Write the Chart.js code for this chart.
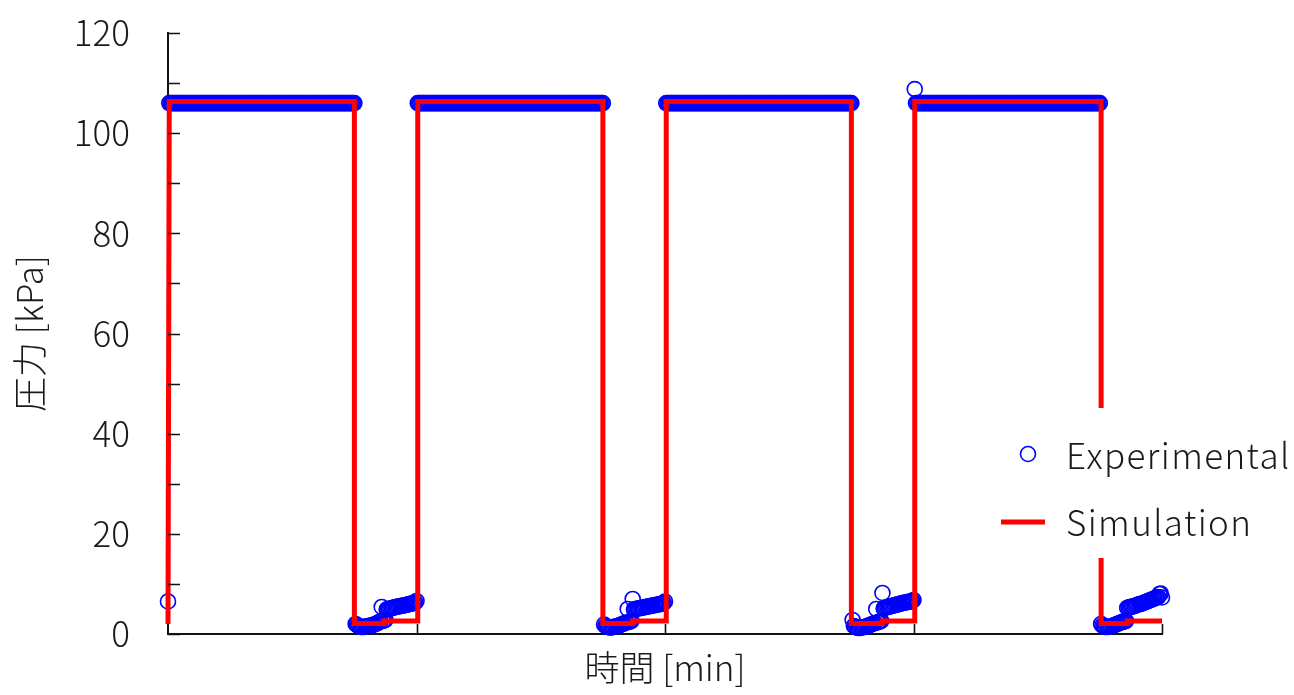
<!DOCTYPE html>
<html lang="ja">
<head>
  <meta charset="UTF-8" />
  <title>圧力 - Experimental / Simulation</title>
  <style>
    html, body { margin: 0; padding: 0; background: #fff; }
    #wrap { width: 1294px; height: 695px; position: relative; }
  </style>
</head>
<body>
  <div id="wrap"><canvas id="grafico" width="1294" height="695"></canvas></div>

  <script src="https://cdn.jsdelivr.net/npm/chart.js"></script>
  <script>
    // 測定間隔 [min]
    const sampleStep = 0.05;

    // 実験値 [kPa] (t = 0, 0.05, 0.10 ... 40 min)
    const expPressure = [
      6.5,
      // 1回目 加圧 (t = 0.05 - 7.50)
      106,106,106,106,106,106,106,106,106,106,106,106,106,106,106,106,106,106,106,106,106,106,106,106,106,
      106,106,106,106,106,106,106,106,106,106,106,106,106,106,106,106,106,106,106,106,106,106,106,106,106,
      106,106,106,106,106,106,106,106,106,106,106,106,106,106,106,106,106,106,106,106,106,106,106,106,106,
      106,106,106,106,106,106,106,106,106,106,106,106,106,106,106,106,106,106,106,106,106,106,106,106,106,
      106,106,106,106,106,106,106,106,106,106,106,106,106,106,106,106,106,106,106,106,106,106,106,106,106,
      106,106,106,106,106,106,106,106,106,106,106,106,106,106,106,106,106,106,106,106,106,106,106,106,106,
      // 減圧 (t = 7.55 - 9.95)
      2.0,1.8,1.6,1.5,1.4,1.4,1.4,
      1.4,1.5,1.5,1.6,1.6,1.7,1.7,
      1.8,1.9,2.0,2.1,2.2,2.4,2.5,
      5.4,2.6,2.7,2.8,4.9,5.0,5.0,
      5.1,5.2,5.2,5.3,5.4,5.4,5.5,
      5.5,5.6,5.6,5.7,5.7,5.8,5.8,
      5.9,6.0,6.0,6.1,6.1,6.2,6.3,
      6.6,
      // 2回目 加圧 (t = 10.05 - 17.50)
      106,106,106,106,106,106,106,106,106,106,106,106,106,106,106,106,106,106,106,106,106,106,106,106,106,
      106,106,106,106,106,106,106,106,106,106,106,106,106,106,106,106,106,106,106,106,106,106,106,106,106,
      106,106,106,106,106,106,106,106,106,106,106,106,106,106,106,106,106,106,106,106,106,106,106,106,106,
      106,106,106,106,106,106,106,106,106,106,106,106,106,106,106,106,106,106,106,106,106,106,106,106,106,
      106,106,106,106,106,106,106,106,106,106,106,106,106,106,106,106,106,106,106,106,106,106,106,106,106,
      106,106,106,106,106,106,106,106,106,106,106,106,106,106,106,106,106,106,106,106,106,106,106,106,106,
      // 減圧 (t = 17.55 - 19.95)
      1.9,1.6,1.5,1.4,1.3,1.3,1.3,
      1.4,1.4,1.5,1.5,1.6,1.7,1.8,
      1.9,2.0,2.1,2.2,2.3,5.0,2.4,
      2.5,2.6,7.0,4.9,5.0,5.0,5.1,
      5.1,5.2,5.2,5.3,5.3,5.4,5.4,
      5.5,5.5,5.6,5.6,5.7,5.7,5.8,
      5.8,5.9,5.9,6.0,6.0,6.1,6.2,
      6.5,
      // 3回目 加圧 (t = 20.05 - 27.50)
      106,106,106,106,106,106,106,106,106,106,106,106,106,106,106,106,106,106,106,106,106,106,106,106,106,
      106,106,106,106,106,106,106,106,106,106,106,106,106,106,106,106,106,106,106,106,106,106,106,106,106,
      106,106,106,106,106,106,106,106,106,106,106,106,106,106,106,106,106,106,106,106,106,106,106,106,106,
      106,106,106,106,106,106,106,106,106,106,106,106,106,106,106,106,106,106,106,106,106,106,106,106,106,
      106,106,106,106,106,106,106,106,106,106,106,106,106,106,106,106,106,106,106,106,106,106,106,106,106,
      106,106,106,106,106,106,106,106,106,106,106,106,106,106,106,106,106,106,106,106,106,106,106,106,106,
      // 減圧 (t = 27.55 - 29.95)
      2.8,1.6,1.4,1.3,1.2,1.2,1.2,
      1.3,1.3,1.4,1.4,1.5,1.6,1.7,
      1.8,1.9,2.0,2.1,2.2,5.0,2.3,
      2.4,2.5,2.6,8.2,5.1,5.2,5.3,
      5.4,5.4,5.5,5.6,5.6,5.7,5.8,
      5.8,5.9,6.0,6.0,6.1,6.2,6.2,
      6.3,6.3,6.4,6.4,6.5,6.5,6.6,
      6.8,
      // 4回目 加圧 (t = 30.05 - 37.50)
      108.8,106,106,106,106,106,106,106,106,106,106,106,106,106,106,106,106,106,106,106,106,106,106,106,106,
      106,106,106,106,106,106,106,106,106,106,106,106,106,106,106,106,106,106,106,106,106,106,106,106,106,
      106,106,106,106,106,106,106,106,106,106,106,106,106,106,106,106,106,106,106,106,106,106,106,106,106,
      106,106,106,106,106,106,106,106,106,106,106,106,106,106,106,106,106,106,106,106,106,106,106,106,106,
      106,106,106,106,106,106,106,106,106,106,106,106,106,106,106,106,106,106,106,106,106,106,106,106,106,
      106,106,106,106,106,106,106,106,106,106,106,106,106,106,106,106,106,106,106,106,106,106,106,106,106,
      // 減圧 (t = 37.55 - 40.00)
      2.0,1.7,1.5,1.4,1.4,1.4,1.4,
      1.5,1.5,1.6,1.7,1.8,1.9,2.0,
      2.1,2.2,2.3,2.4,2.5,2.5,2.6,
      5.2,5.3,5.4,5.4,5.5,5.5,5.6,
      5.7,5.8,5.9,6.0,6.0,6.1,6.2,
      6.3,6.4,6.5,6.6,6.7,6.8,6.9,
      7.0,7.1,7.2,7.3,7.4,8.0,8.1,
      7.3
    ];

    // 計算値
    const simTime = [0, 0.05, 7.5, 7.5, 8.7, 8.7, 10.05, 10.05, 17.5, 17.5, 18.7, 18.7, 20.05, 20.05,
                     27.5, 27.5, 28.75, 28.75, 30.05, 30.05, 37.55, 37.55, 38.6, 38.6, 40];
    const simPressure = [2.0, 106.3, 106.3, 2.1, 2.1, 2.6, 2.6, 106.3, 106.3, 2.1, 2.1, 2.6, 2.6, 106.3,
                         106.3, 2.1, 2.1, 2.6, 2.6, 106.3, 106.3, 2.1, 2.1, 2.6, 2.6];

    const yTickValues = [0, 10, 20, 30, 40, 50, 60, 70, 80, 90, 100, 110, 120];
    const xTickValues = [10, 20, 30, 40];
    const legendLabels = ['Experimental', 'Simulation'];

    const fonte = "'Noto Sans CJK JP', 'Noto Sans', sans-serif";
    const tamanho = 35;
    const peso = 300;

    const expData = expPressure.map((p, i) => ({ x: +(i * sampleStep).toFixed(2), y: p }));
    const simData = simTime.map((t, i) => ({ x: t, y: simPressure[i] }));

    // 内向きの目盛り
    const marcasInternas = {
      id: 'marcasInternas',
      afterDraw(chart) {
        const { ctx, chartArea, scales } = chart;
        ctx.save();
        ctx.strokeStyle = '#111';
        ctx.lineWidth = 1.6;
        ctx.beginPath();
        yTickValues.forEach(v => {
          const y = Math.round(scales.y.getPixelForValue(v)) + 0.5;
          ctx.moveTo(chartArea.left, y);
          ctx.lineTo(chartArea.left + 12, y);
        });
        xTickValues.forEach(v => {
          const x = Math.round(scales.x.getPixelForValue(v)) + 0.5;
          ctx.moveTo(x, chartArea.bottom);
          ctx.lineTo(x, chartArea.bottom - 10);
        });
        ctx.stroke();
        ctx.restore();
      }
    };

    // 凡例 (白背景)
    const legenda = {
      id: 'legenda',
      afterDatasetsDraw(chart) {
        const { ctx } = chart;
        ctx.save();
        ctx.fillStyle = '#fff';
        ctx.fillRect(992, 408, 302, 150);
        ctx.strokeStyle = '#0000ff';
        ctx.lineWidth = 1.6;
        ctx.beginPath();
        ctx.arc(1028, 454, 7.5, 0, Math.PI * 2);
        ctx.stroke();
        ctx.strokeStyle = '#ff0000';
        ctx.lineWidth = 5;
        ctx.beginPath();
        ctx.moveTo(1001, 522);
        ctx.lineTo(1045, 522);
        ctx.stroke();
        ctx.fillStyle = '#1a1a1a';
        ctx.font = peso + ' ' + tamanho + 'px ' + fonte;
        ctx.letterSpacing = '1.4px';
        ctx.textBaseline = 'middle';
        ctx.textAlign = 'left';
        ctx.fillText(legendLabels[0], 1066, 456);
        ctx.fillText(legendLabels[1], 1066, 523);
        ctx.restore();
      }
    };

    const ctx = document.getElementById('grafico').getContext('2d');
    new Chart(ctx, {
      type: 'scatter',
      data: {
        datasets: [
          {
            label: legendLabels[0],
            data: expData,
            pointStyle: 'circle',
            pointRadius: 7.5,
            pointBorderWidth: 1.6,
            pointBorderColor: '#0000ff',
            pointBackgroundColor: 'rgba(0,0,0,0)',
            showLine: false,
            clip: false,
            order: 1
          },
          {
            label: legendLabels[1],
            data: simData,
            showLine: true,
            borderColor: '#ff0000',
            borderWidth: 5,
            borderJoinStyle: 'miter',
            pointRadius: 0,
            tension: 0,
            clip: false,
            order: 0
          }
        ]
      },
      options: {
        responsive: false,
        animation: false,
        layout: { padding: { top: 33, right: 132, bottom: 0, left: 0 } },
        plugins: { legend: { display: false }, tooltip: { enabled: false } },
        scales: {
          x: {
            type: 'linear',
            min: 0,
            max: 40,
            ticks: { display: false },
            grid: { drawOnChartArea: false, drawTicks: false },
            border: { display: true, color: '#111', width: 2 },
            title: {
              display: true,
              text: '時間 [min]',
              color: '#1a1a1a',
              font: { family: fonte, size: tamanho, weight: peso },
              padding: { top: 0, bottom: 6 }
            },
            afterFit(scale) { scale.height = 61; }
          },
          y: {
            min: 0,
            max: 120,
            ticks: {
              stepSize: 20,
              padding: 0,
              color: '#1a1a1a',
              font: { family: fonte, size: tamanho, weight: peso }
            },
            // 外側の目盛りは透明にして、ラベルとの間隔だけに使う
            grid: { drawOnChartArea: false, drawTicks: true, tickLength: 38, tickColor: 'rgba(0,0,0,0)' },
            border: { display: true, color: '#111', width: 2 },
            title: {
              display: true,
              text: '圧力 [kPa]',
              color: '#1a1a1a',
              font: { family: fonte, size: tamanho, weight: peso },
              padding: { top: 9, bottom: 0 }
            },
            afterFit(scale) { scale.width = 168; }
          }
        }
      },
      plugins: [marcasInternas, legenda]
    });
  </script>
</body>
</html>
